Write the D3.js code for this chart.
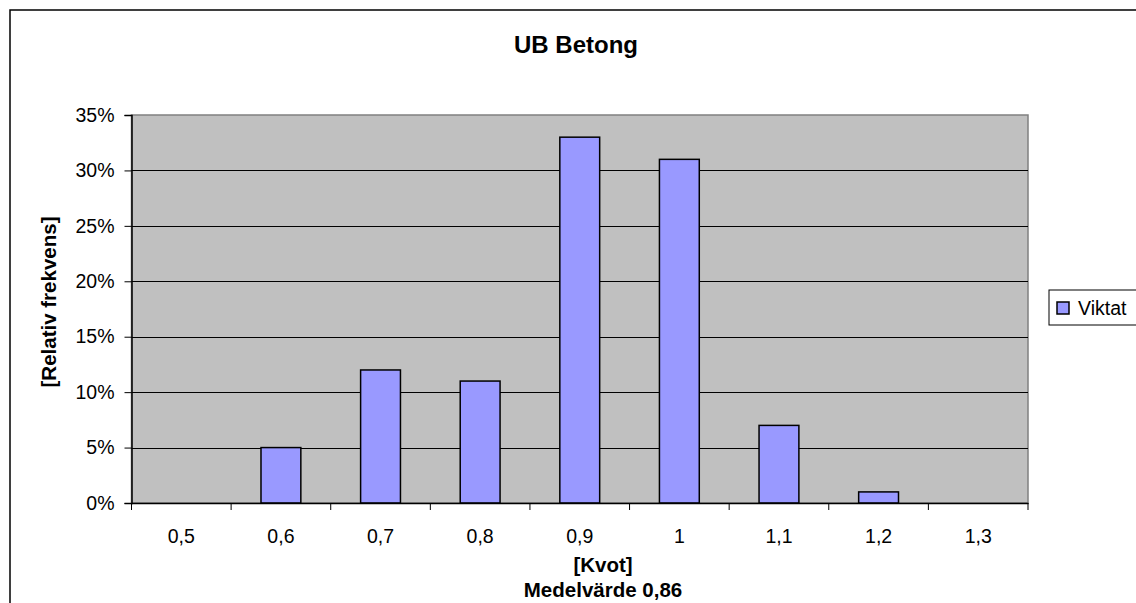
<!DOCTYPE html>
<html>
<head>
<meta charset="utf-8">
<script src="https://cdn.jsdelivr.net/npm/d3@7"></script>
<style>
  html, body { margin: 0; padding: 0; background: #fff; }
  svg { display: block; font-family: "Liberation Sans", Arial, sans-serif; }
</style>
</head>
<body>
<svg id="chart" width="1136" height="603"></svg>
<script>
const categories = ["0,5", "0,6", "0,7", "0,8", "0,9", "1", "1,1", "1,2", "1,3"];
const viktat = [0, 5, 12, 11, 33, 31, 7, 1, 0];
const yTicks = [0, 5, 10, 15, 20, 25, 30, 35];
const seriesName = "Viktat";
const chartTitle = "UB Betong";
const xTitle = "[Kvot]";
const xSubTitle = "Medelvärde 0,86";
const yTitle = "[Relativ frekvens]";

const svg = d3.select("#chart");
const plot = { left: 131.5, right: 1028, top: 115, bottom: 503 };

// outer chart frame (extends beyond right/bottom edge)
svg.append("rect")
  .attr("x", 10).attr("y", 10).attr("width", 1400).attr("height", 1000)
  .attr("fill", "#fff").attr("stroke", "#000").attr("stroke-width", 1.5);

const x = d3.scaleBand().domain(categories).range([plot.left, plot.right]).paddingInner(0).paddingOuter(0);
const y = d3.scaleLinear().domain([0, 35]).range([plot.bottom, plot.top]);

// plot area
svg.append("rect")
  .attr("x", plot.left).attr("y", plot.top)
  .attr("width", plot.right - plot.left).attr("height", plot.bottom - plot.top)
  .attr("fill", "#C0C0C0").attr("stroke", "#808080").attr("stroke-width", 1.5);

// gridlines
svg.append("g").selectAll("line").data(yTicks.filter(d => d > 0 && d < 35)).join("line")
  .attr("x1", plot.left).attr("x2", plot.right)
  .attr("y1", d => Math.round(y(d)) + 0.5).attr("y2", d => Math.round(y(d)) + 0.5)
  .attr("stroke", "#000").attr("stroke-width", 1);

// bars
const bw = x.bandwidth() * 0.4;
svg.append("g").selectAll("rect").data(viktat.map((v, i) => ({ c: categories[i], v })).filter(d => d.v > 0)).join("rect")
  .attr("x", d => x(d.c) + x.bandwidth() / 2 - bw / 2)
  .attr("y", d => y(d.v))
  .attr("width", bw)
  .attr("height", d => y(0) - y(d.v))
  .attr("fill", "#9999FF").attr("stroke", "#000").attr("stroke-width", 1.5);

// y axis
const yAxis = d3.axisLeft(y).tickValues(yTicks).tickFormat(d => d + "%").tickSize(7).tickPadding(10);
const gy = svg.append("g").attr("transform", `translate(${plot.left},0)`).call(yAxis);
gy.select(".domain").attr("stroke", "#000").attr("stroke-width", 1.5);
gy.selectAll(".tick line").attr("stroke", "#000");
gy.selectAll(".tick text").attr("font-size", 19.5).attr("fill", "#000")
  .attr("font-family", "Liberation Sans, Arial, sans-serif");

// x axis
const xAxis = d3.axisBottom(x).tickSize(0).tickPadding(26);
const gx = svg.append("g").attr("transform", `translate(0,${plot.bottom})`).call(xAxis);
gx.select(".domain").attr("stroke", "#000").attr("stroke-width", 1.5);
gx.selectAll(".tick text").attr("font-size", 19.5).attr("fill", "#000")
  .attr("font-family", "Liberation Sans, Arial, sans-serif");
// x ticks at category boundaries
const bounds = categories.map(c => x(c)).concat([x(categories[categories.length - 1]) + x.bandwidth()]);
svg.append("g").selectAll("line").data(bounds).join("line")
  .attr("x1", d => d).attr("x2", d => d)
  .attr("y1", plot.bottom).attr("y2", plot.bottom + 7)
  .attr("stroke", "#000").attr("stroke-width", 1);

// titles
svg.append("text").attr("x", 576).attr("y", 53).attr("text-anchor", "middle")
  .attr("font-size", 24).attr("font-weight", "bold").text(chartTitle);
svg.append("text").attr("x", 603).attr("y", 572).attr("text-anchor", "middle")
  .attr("font-size", 20.5).attr("font-weight", "bold").text(xTitle);
svg.append("text").attr("x", 603).attr("y", 597).attr("text-anchor", "middle")
  .attr("font-size", 20.5).attr("font-weight", "bold").text(xSubTitle);
svg.append("text").attr("transform", "translate(56,302) rotate(-90)").attr("text-anchor", "middle")
  .attr("font-size", 20.5).attr("font-weight", "bold").text(yTitle);

// legend
const lg = svg.append("g").attr("transform", "translate(1049,290)");
lg.append("rect").attr("x", 0).attr("y", 0).attr("width", 200).attr("height", 35)
  .attr("fill", "#fff").attr("stroke", "#000").attr("stroke-width", 1);
lg.append("rect").attr("x", 8).attr("y", 12).attr("width", 12).attr("height", 12)
  .attr("fill", "#9999FF").attr("stroke", "#000").attr("stroke-width", 1.5);
lg.append("text").attr("x", 29).attr("y", 25).attr("font-size", 19.5).text(seriesName);
</script>
</body>
</html>
